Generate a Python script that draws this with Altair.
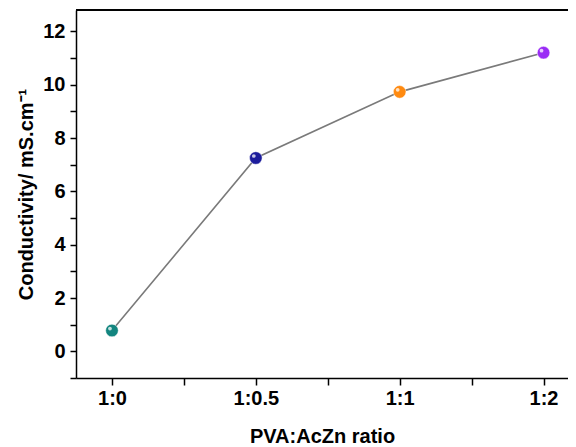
import altair as alt
import pandas as pd

ratios = ["1:0", "1:0.5", "1:1", "1:2"]
positions = [0, 1, 2, 3]
conductivity = [0.78, 7.25, 9.73, 11.2]
colors = ["#13857f", "#1c1c9c", "#ff8a10", "#9a2cf5"]

df = pd.DataFrame({"pos": positions, "ratio": ratios, "cond": conductivity, "color": colors})

W, H = 492, 368
FONT = "Liberation Sans"

label_expr_x = "datum.value == 0 ? '1:0' : datum.value == 1 ? '1:0.5' : datum.value == 2 ? '1:1' : datum.value == 3 ? '1:2' : ''"
label_expr_y = "datum.value % 2 == 0 ? datum.value : ''"

x = alt.X("pos:Q", scale=alt.Scale(domain=[-0.25, 3.17], nice=False, zero=False),
          axis=alt.Axis(title="PVA:AcZn ratio", values=[0, 0.5, 1, 1.5, 2, 2.5, 3],
                        labelExpr=label_expr_x, grid=False, tickSize=7, labelPadding=3,
                        titlePadding=18))
y = alt.Y("cond:Q", scale=alt.Scale(domain=[-1, 12.8], nice=False, zero=False),
          axis=alt.Axis(title="Conductivity/ mS.cm⁻¹", values=list(range(-1, 13)),
                        labelExpr=label_expr_y, grid=False, tickSize=6, labelPadding=5,
                        titlePadding=6))

base = alt.Chart(df)
line = base.mark_line(color="#7a7a7a", strokeWidth=1.6).encode(x=x, y=y)
pts = base.mark_circle(size=160, opacity=1, stroke="white", strokeWidth=0.5).encode(
    x=x, y=y, color=alt.Color("color:N", scale=None))
hl = base.mark_circle(size=14, opacity=0.75, color="white", xOffset=-2, yOffset=-2).encode(x=x, y=y)
top = alt.Chart(df).mark_rule(color="black", strokeWidth=1.5).encode(
    x=alt.value(0), x2=alt.value(W), y=alt.value(0))

chart = alt.layer(line, pts, hl, top).properties(
    width=W, height=H,
    autosize=alt.AutoSizeParams(type="none"),
    padding={"left": 68, "top": 2, "right": 0, "bottom": 69},
).configure_view(stroke=None).configure_axis(
    domainColor="black", domainWidth=1.5, tickColor="black", tickWidth=1.5,
    labelFont=FONT, labelFontSize=20, labelFontWeight="bold", labelColor="black",
    titleFont=FONT, titleFontSize=20, titleFontWeight="bold", titleColor="black",
)

chart.save("out.html", embed_options={"renderer": "svg", "actions": False})
